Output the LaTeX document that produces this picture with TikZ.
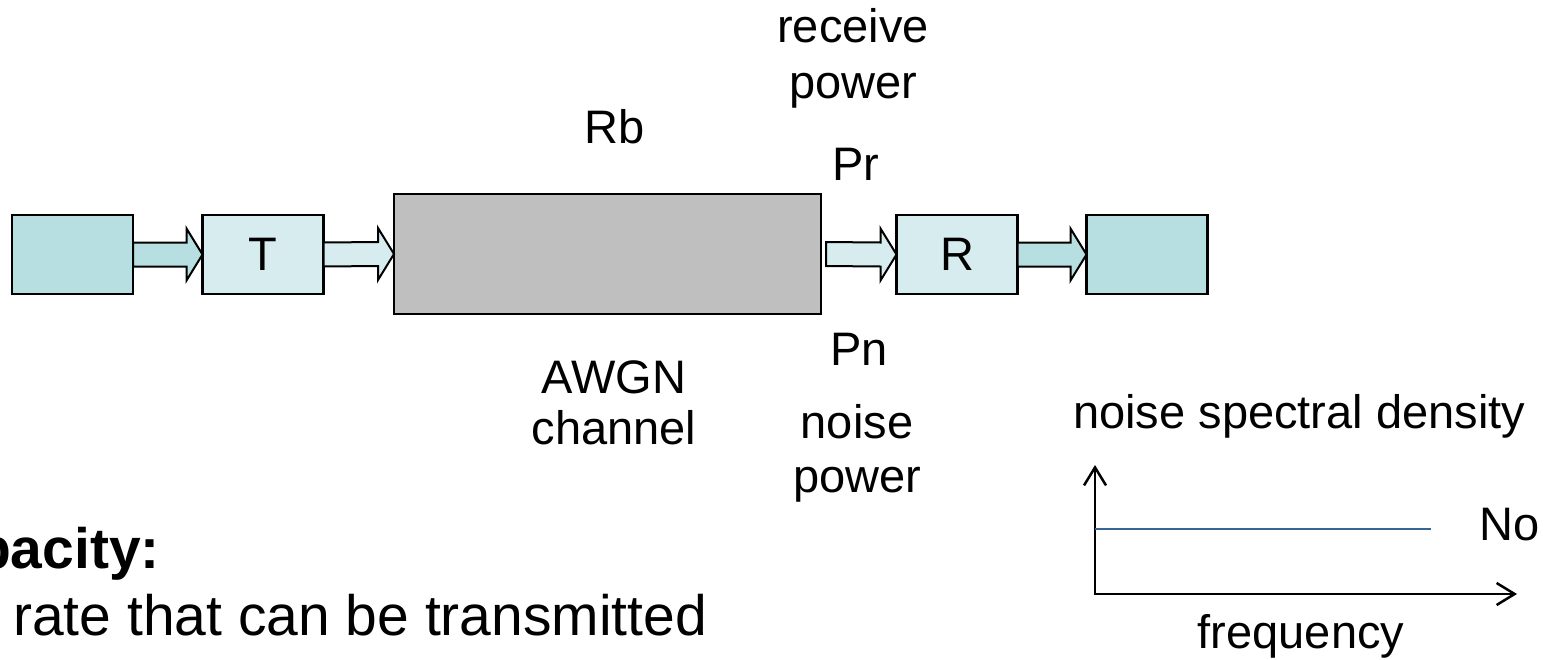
\documentclass[tikz,border=0pt]{standalone}
\usepackage{fontspec}
\setmainfont{Liberation Sans}
\usetikzlibrary{calc,arrows.meta}
\definecolor{boxdark}{HTML}{B7DEE0}
\definecolor{boxlight}{HTML}{D6ECEF}
\definecolor{chan}{HTML}{BFBFBF}
\definecolor{nline}{HTML}{3A6496}
\newcommand{\blkarrow}[3]{%
  \draw[barrow,fill=#3] ($#1+(0,-12)$) -- ($#2+(-16,-12)$) -- ($#2+(-16,-26)$) -- #2
    -- ($#2+(-16,26)$) -- ($#2+(-16,12)$) -- ($#1+(0,12)$) -- cycle;}
\begin{document}
\begin{tikzpicture}[x=1pt,y=-1pt,
  blk/.style={draw=black,line width=2.2pt,minimum width=121pt,minimum height=79pt,inner sep=0pt,outer sep=0pt,
    font=\fontsize{47}{54}\selectfont},
  lbl/.style={font=\fontsize{47}{54}\selectfont,inner sep=0pt,anchor=base},
  big/.style={font=\fontsize{57}{66}\selectfont,inner sep=0pt},
  barrow/.style={draw=black,line width=2pt,line join=miter},
  axis/.style={draw=black,line width=2.5pt,{Straight Barb[length=18pt,width=22pt]}-{Straight Barb[length=18pt,width=22pt]}}]
\useasboundingbox (0,0) rectangle (1552,659);
% blocks
\node[blk,fill=boxdark] (src) at (72.5,254.5) {};
\node[blk,fill=boxlight] (T) at (263,254.5) {T};
\node[blk,fill=chan,minimum width=427pt,minimum height=120pt] (ch) at (607.5,254) {};
\node[blk,fill=boxlight] (R) at (957,254.5) {R};
\node[blk,fill=boxdark] (dst) at (1147,254.5) {};
% block arrows
\blkarrow{(src.east)}{(T.west)}{boxdark}
\blkarrow{(T.east)}{(ch.west)}{boxlight}
\coordinate (chout) at ($(ch.east)+(5,0)$);
\blkarrow{(chout)}{(R.west)}{boxlight}
\blkarrow{(R.east)}{(dst.west)}{boxdark}
% labels
\node[lbl] (recv) at (853,42) {receive};
\node[lbl] (rpow) at (853,98) {power};
\node[lbl] (rb) at (615,143) {Rb};
\node[lbl] (pr) at (856,180) {Pr};
\node[lbl] (pn) at (859,365) {Pn};
\node[lbl] (awgn) at (614,393) {AWGN};
\node[lbl] (chl) at (614,444) {channel};
\node[lbl] (noise) at (857,438) {noise};
\node[lbl] (npow) at (857,492) {power};
% capacity text
\node[big,anchor=base east,font=\fontsize{57}{66}\selectfont\bfseries] (cap) at (160,568) {Capacity:};
\node[big,anchor=base west] (rate) at (13,635) {rate that can be transmitted};
% spectral density plot
\node[lbl,anchor=base west] (nsd) at (1073,428) {noise spectral density};
\coordinate (ytip) at (1095,465);
\coordinate (org) at (1095,594);
\coordinate (xtip) at (1517,594);
\draw[axis] (ytip) -- (org) -- (xtip);
\coordinate (n0) at (1095,529);
\coordinate (n1) at (1431,529);
\draw[nline,line width=2.5pt] (n0) -- (n1);
\node[lbl] (no) at (1510,540) {No};
\node[lbl] (freq) at (1301,648) {frequency};
\end{tikzpicture}
\end{document}
